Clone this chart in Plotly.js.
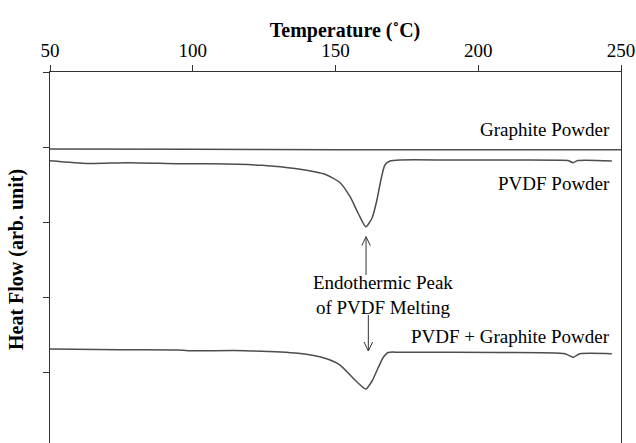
<!DOCTYPE html>
<html>
<head>
<meta charset="utf-8">
<script src="https://cdn.plot.ly/plotly-3.0.1.min.js"></script>
<style>
html,body{margin:0;padding:0;overflow:hidden;background:#fff;}
#chart{width:636px;height:448px;}
#chart svg text{font-family:"Liberation Serif","Tinos","Times New Roman",serif !important;}
</style>
</head>
<body>
<div id="chart"></div>
<script>
// Temperature (°C) and heat flow (arb. unit)
const graphiteT = [50, 100, 150, 200, 250];
const graphiteHF = [-0.025, -0.03, -0.035, -0.035, -0.035];

const pvdfT = [50, 63.3, 77.3, 94.8, 106.7, 124.3, 133.4, 137.6, 146.3, 151.6, 155.1, 157.9, 160.6, 162.8, 164.5, 165.9, 167.3, 169.1, 172.6, 190.1, 207.6, 228.6, 231.4, 233.2, 234.9, 246.8];
const pvdfHF = [-0.183, -0.22, -0.209, -0.222, -0.224, -0.244, -0.276, -0.297, -0.364, -0.476, -0.663, -0.88, -1.063, -0.947, -0.707, -0.44, -0.24, -0.187, -0.173, -0.173, -0.173, -0.177, -0.18, -0.209, -0.18, -0.185];

const mixT = [50, 74.5, 94.8, 98.3, 118.3, 136.9, 146.3, 151.6, 155.1, 157.9, 160.6, 162.8, 164.9, 166.6, 168.4, 172.6, 207.6, 230.4, 233.2, 235.6, 246.8];
const mixHF = [-2.693, -2.703, -2.707, -2.716, -2.716, -2.751, -2.817, -2.907, -3.04, -3.147, -3.227, -3.12, -2.947, -2.813, -2.74, -2.737, -2.74, -2.757, -2.803, -2.757, -2.757];

const seriesNames = ["Graphite Powder", "PVDF Powder", "PVDF + Graphite Powder"];
const yTicks = [1, 0, -1, -2, -3];
const xTicks = [50, 100, 150, 200, 250];

const fontFam = "Liberation Serif";
const lineColor = "#4d4d4d";

const traces = [
  {x: graphiteT, y: graphiteHF, name: seriesNames[0]},
  {x: pvdfT, y: pvdfHF, name: seriesNames[1]},
  {x: mixT, y: mixHF, name: seriesNames[2]}
].map(t => Object.assign(t, {type: "scatter", mode: "lines", line: {color: lineColor, width: 1.5, shape: "spline", smoothing: 0.6}, hoverinfo: "skip"}));

// arrows (chevron heads)
function makeArrow(x, yTail, yHead) {
  const dir = yHead > yTail ? 1 : -1;
  const hw = 1.5, hl = 0.12 * dir;
  const s = {type: "line", xref: "x", yref: "y", line: {color: "#333", width: 1}};
  return [
    Object.assign({}, s, {x0: x, x1: x, y0: yTail, y1: yHead}),
    Object.assign({}, s, {x0: x - hw, x1: x, y0: yHead - hl, y1: yHead}),
    Object.assign({}, s, {x0: x + hw, x1: x, y0: yHead - hl, y1: yHead})
  ];
}

const annFont = {family: fontFam, size: 19, color: "#000"};

const layout = {
  width: 636, height: 448,
  margin: {l: 50, r: 15, t: 72, b: 1},
  paper_bgcolor: "#fff", plot_bgcolor: "#fff",
  showlegend: false,
  font: {family: fontFam, color: "#000", size: 18},
  title: {text: "Temperature (˚C)", font: {family: fontFam, size: 20, weight: "bold", color: "#000"},
    xref: "container", x: 0.5425, xanchor: "center", yref: "container", y: 0.933, yanchor: "middle"},
  xaxis: {
    side: "top", range: [50, 250], tickvals: xTicks, ticktext: xTicks.map(String),
    showgrid: false, zeroline: false, showline: true, mirror: true, linecolor: "#333", linewidth: 1,
    ticks: "outside", ticklen: 6, tickcolor: "#333",
    tickfont: {family: fontFam, size: 19, color: "#000"}
  },
  yaxis: {
    range: [-4, 1], tickvals: yTicks, showticklabels: false,
    showgrid: false, zeroline: false, showline: true, mirror: true, linecolor: "#333", linewidth: 1,
    ticks: "outside", ticklen: 6, tickcolor: "#333",
    title: {text: "Heat Flow (arb. unit)", font: {family: fontFam, size: 20, weight: "bold", color: "#000"}, standoff: 14}
  },
  annotations: [
    {x: 247, y: 0.227, xref: "x", yref: "y", text: seriesNames[0], showarrow: false, xanchor: "right", yanchor: "middle", font: annFont},
    {x: 247, y: -0.48, xref: "x", yref: "y", text: seriesNames[1], showarrow: false, xanchor: "right", yanchor: "middle", font: annFont},
    {x: 247, y: -2.52, xref: "x", yref: "y", text: seriesNames[2], showarrow: false, xanchor: "right", yanchor: "middle", font: annFont},
    {x: 166.6, y: -1.973, xref: "x", yref: "y", text: "Endothermic Peak<br>of PVDF Melting", showarrow: false, xanchor: "center", yanchor: "middle", font: annFont, align: "center"}
  ],
  shapes: [].concat(makeArrow(160.7, -1.707, -1.196), makeArrow(161.5, -2.24, -2.72))
};

Plotly.newPlot("chart", traces, layout, {staticPlot: true, displayModeBar: false});
</script>
</body>
</html>
